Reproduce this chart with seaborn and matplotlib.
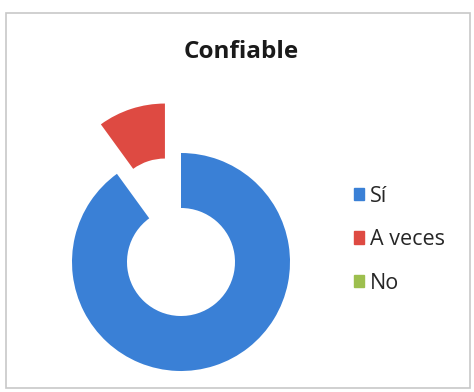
import matplotlib
matplotlib.use("Agg")
import matplotlib.pyplot as plt
import matplotlib.patches as mpatches
import seaborn as sns

# Confiable - encuesta
labels = ["Sí", "A veces", "No"]
values = [90, 10, 0]
colors = ["#3a80d6", "#de4a42", "#9dbf4e"]
explode = [0, 52, 0]

sns.set_theme(style="white")
plt.rcParams["font.family"] = ["Open Sans", "DejaVu Sans"]

fig = plt.figure(figsize=(4.74, 3.92), dpi=100)
fig.patch.set_facecolor("white")
ax = fig.add_axes([0, 0, 1, 1])

wedges, _ = ax.pie(values, colors=colors, explode=explode, startangle=90,
                   counterclock=False, radius=109, center=(181, 130),
                   wedgeprops=dict(width=55, linewidth=0))
ax.set_xlim(0, 474)
ax.set_ylim(0, 392)
ax.set_aspect("equal")
ax.axis("off")

# outer chart frame
ax.add_patch(mpatches.Rectangle((6, 4), 464, 375, fill=False,
                                edgecolor="#c8c8c8", linewidth=1.2))

fig.text(241 / 474, 1 - 52 / 392, "Confiable", ha="center", va="center",
         fontsize=17.5, fontweight="bold", color="#1a1a1a")

handles = [mpatches.Patch(color=c, label=l) for c, l in zip(colors, labels)]
leg = ax.legend(handles=handles, loc="upper left",
                bbox_to_anchor=(345 / 474, 1 - 177 / 392),
                frameon=False, fontsize=15.5, handlelength=0.5, handleheight=0.5,
                handletextpad=0.25, labelspacing=1.05, borderaxespad=0)

fig.savefig("out.png", dpi=100)
